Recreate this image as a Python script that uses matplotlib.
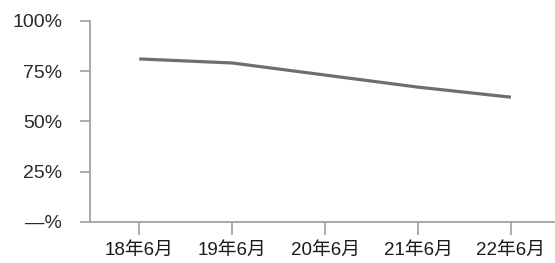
import numpy as np
import matplotlib.pyplot as plt

# Daten
periods = ["18年6月", "19年6月", "20年6月", "21年6月", "22年6月"]
share = [81, 79, 73, 67, 62]
y_ticks = [0, 25, 50, 75, 100]
y_labels = ["—%", "25%", "50%", "75%", "100%"]

font = ["Liberation Sans", "Noto Sans CJK SC"]
axis_grey = "#a0a0a0"

fig = plt.figure(figsize=(5.55, 2.63), dpi=100)
ax = fig.add_axes([0.1622, 0.1559, 0.8378, 0.7654])

x = np.arange(len(periods))
ax.plot(x, share, color="#6e6e6e", lw=2.3, solid_capstyle="butt")

ax.set_xlim(-0.53, 4.475)
ax.set_ylim(0, 100)

ax.set_xticks(x)
ax.set_xticklabels(periods, family=font, fontsize=13.5, color="#1a1a1a")
ax.set_yticks(y_ticks)
ax.set_yticklabels(y_labels, family=font, fontsize=14, color="#2a2a2a")

for s in ["top", "right"]:
    ax.spines[s].set_visible(False)
for s in ["left", "bottom"]:
    ax.spines[s].set_color(axis_grey)
    ax.spines[s].set_linewidth(1.3)

ax.tick_params(axis="y", direction="out", length=7, width=1.2, color=axis_grey, pad=13)
ax.tick_params(axis="x", direction="out", length=9, width=1.2, color=axis_grey, pad=5)

fig.savefig("out.png", dpi=100)
